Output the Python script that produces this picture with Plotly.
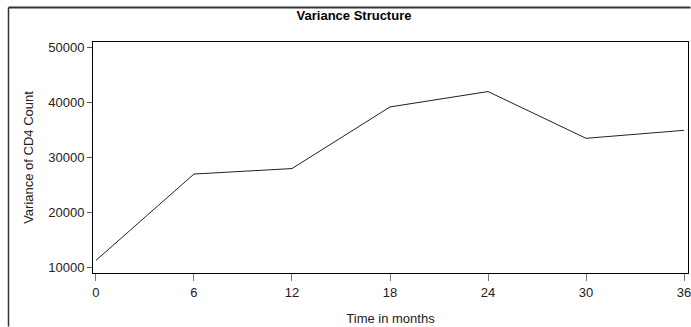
import plotly.graph_objects as go

months = [0, 6, 12, 18, 24, 30, 36]
variance = [11200, 26900, 27900, 39100, 41900, 33400, 34850]
x_ticks = [0, 6, 12, 18, 24, 30, 36]
y_ticks = [10000, 20000, 30000, 40000, 50000]

W, H = 691, 327
L, R, T, B = 93, 3, 42, 54
pw, ph = W - L - R, H - T - B

fig = go.Figure()
fig.add_trace(go.Scatter(x=months, y=variance, mode="lines", cliponaxis=False,
                         line=dict(color="#222222", width=1), showlegend=False))

font = dict(family="Liberation Sans, Arial, sans-serif", size=13, color="#222222")

fig.update_layout(
    width=W, height=H,
    margin=dict(l=L, r=R, t=T, b=B, autoexpand=False),
    paper_bgcolor="white", plot_bgcolor="white",
    font=font,
    title=dict(text="<b>Variance Structure</b>", x=(354 / W), xanchor="center",
               y=1 - 15 / H, yanchor="middle",
               font=dict(family="Liberation Sans, Arial, sans-serif", size=13, color="black")),
    xaxis=dict(range=[-0.18, 36.24], tickvals=x_ticks, ticktext=[str(v) for v in x_ticks],
               automargin=False, ticklabeloverflow="allow",
               showgrid=False, zeroline=False, showline=True, mirror=True,
               linecolor="black", linewidth=1, ticks="outside", ticklen=7,
               tickcolor="#777777", tickfont=font,
               title=dict(text="Time in months", standoff=15, font=font)),
    yaxis=dict(range=[8909, 50909], tickvals=y_ticks, ticktext=[str(v) for v in y_ticks],
               automargin=False,
               showgrid=False, zeroline=False, showline=True, mirror=True,
               linecolor="black", linewidth=1, ticks="outside", ticklen=5,
               tickcolor="#555555", tickfont=font,
               title=dict(text="Variance of CD4 Count", standoff=11, font=font)),
)

# outer figure border (left and top visible), kept inside the paper
x_left = (8.5 - L) / pw
x_right = (W - 0.5 - L) / pw
y_top = 1 + (T - 7.5) / ph
y_bottom = -(B - 0.5) / ph
fig.add_shape(type="line", xref="paper", yref="paper",
              x0=x_left, x1=x_right, y0=y_top, y1=y_top,
              line=dict(color="#333333", width=2))
fig.add_shape(type="line", xref="paper", yref="paper",
              x0=x_left, x1=x_left, y0=y_bottom, y1=y_top,
              line=dict(color="#333333", width=1.5))

fig.write_html("out.html", config={"displayModeBar": False},
               post_script="document.body.style.margin='0';document.body.style.overflow='hidden';")
